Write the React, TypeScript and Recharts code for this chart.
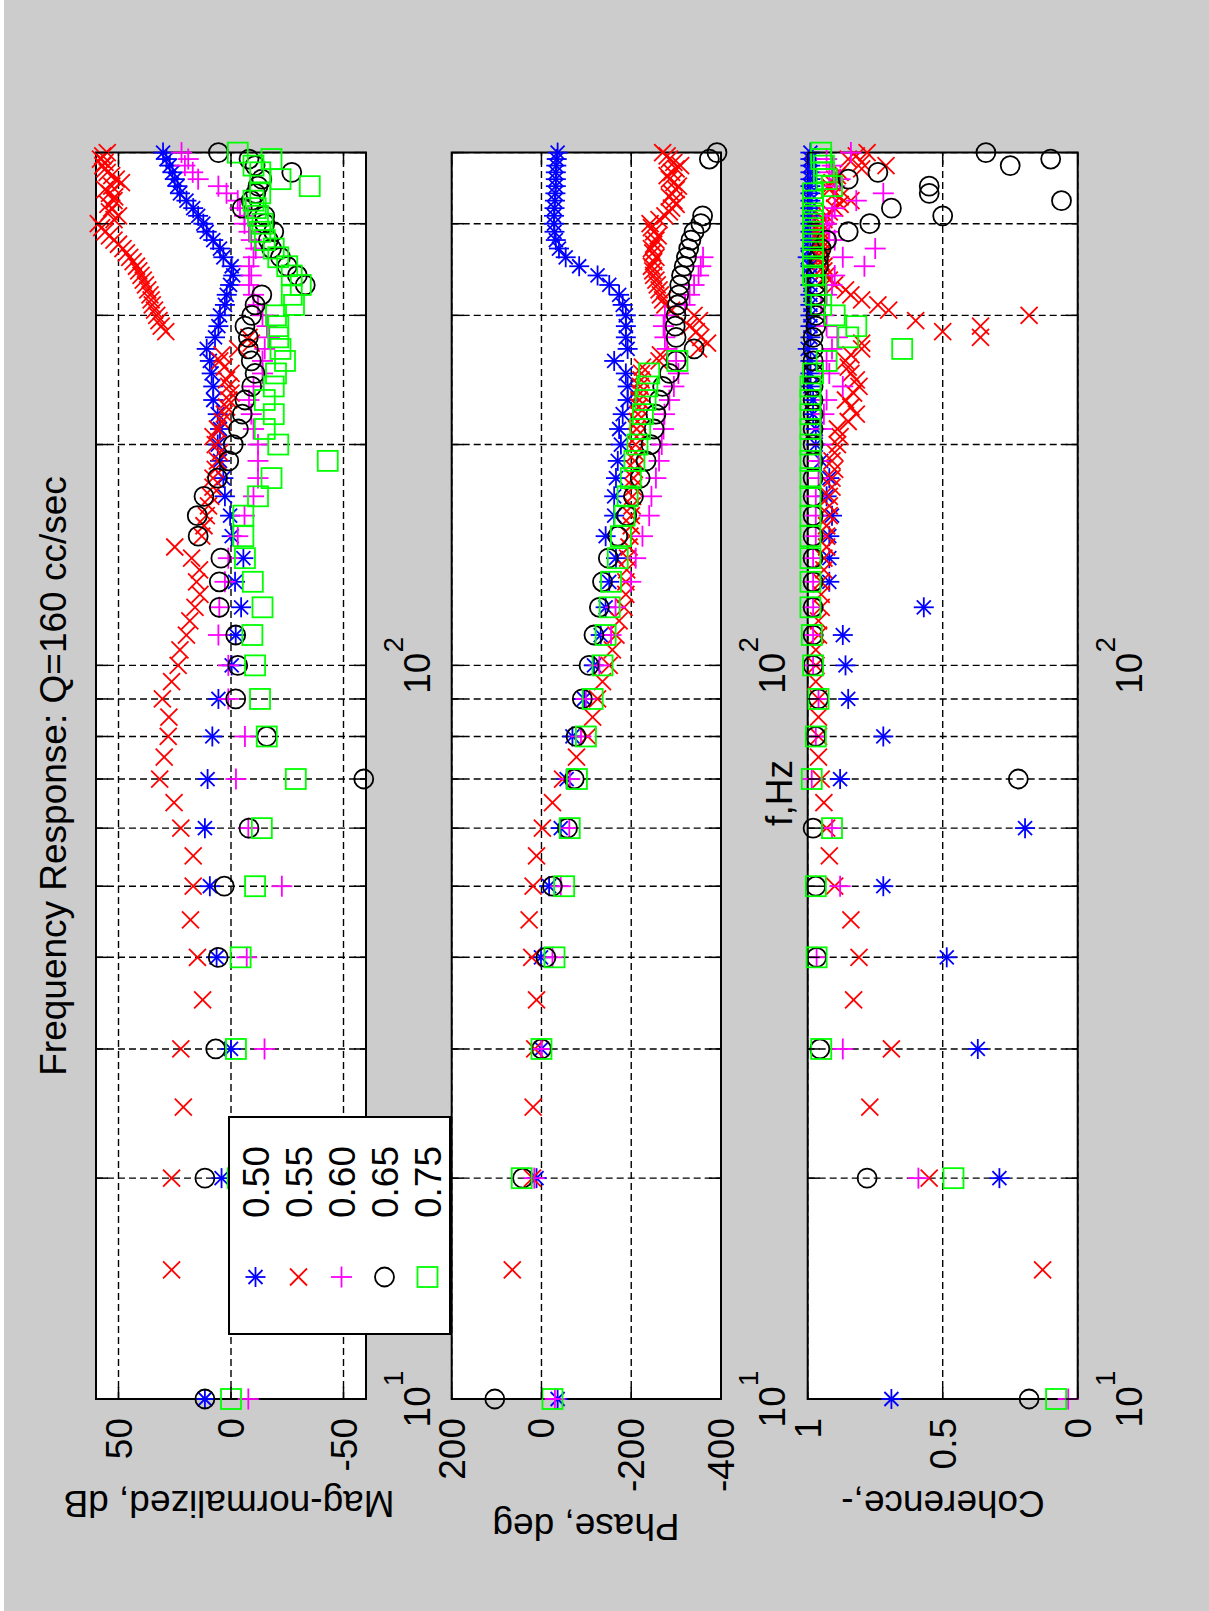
import React from 'react';
import { CartesianGrid, ReferenceArea, Scatter, ScatterChart, XAxis, YAxis } from 'recharts';

// frequencies, Hz (the 0.55 run was sampled every 5 Hz, the others every 10 Hz)
const F10 = [
  10, 20, 30, 40, 50, 60, 70, 80, 90, 100, 110, 120, 130, 140, 150, 160, 170, 180, 190, 200,
  210, 220, 230, 240, 250, 260, 270, 280, 290, 300, 310, 320, 330, 340, 350, 360, 370, 380, 390, 400,
  410, 420, 430, 440, 450, 460, 470, 480, 490, 500,
];
const F5 = [
  15, 20, 25, 30, 35, 40, 45, 50, 55, 60, 65, 70, 75, 80, 85, 90, 95, 100, 105, 110,
  115, 120, 125, 130, 135, 140, 145, 150, 155, 160, 165, 170, 175, 180, 185, 190, 195, 200, 205, 210,
  215, 220, 225, 230, 235, 240, 245, 250, 255, 260, 265, 270, 275, 280, 285, 290, 295, 300, 305, 310,
  315, 320, 325, 330, 335, 340, 345, 350, 355, 360, 365, 370, 375, 380, 385, 390, 395, 400, 405, 410,
  415, 420, 425, 430, 435, 440, 445, 450, 455, 460, 465, 470, 475, 480, 485, 490, 495, 500,
];

// magnitude, dB
const MAG_050 = [
  11.6, 4.2, 0, 6.4, 9.4, 11.6, 10.4, 8.3, 5.6, -0.3,
  -2.1, -4.5, -1.8, -5.5, -0.3, 0.4, 2.7, 3.4, 4.9, 5.9,
  4.9, 5.9, 7.9, 7.9, 8.6, 9.4, 10.8, 7.1, 5.6, 4.9,
  2.7, 1.9, 0.4, -1.0, -0.3, 3.4, 4.9, 7.9, 10.8, 12.3,
  14.6, 16.8, 19.8, 22.7, 23.8, 25, 26, 27.2, 28.7, 30.2,
];
const MAG_055 = [
  26.4, 26.4, 21.2, 22.3, 12.6, 14.9, 18, 16.8, 16.8, 22.3,
  25.3, 31.7, 29.7, 27.9, 27.6, 30.5, 26.4, 23.5, 22.7, 19.8,
  18.3, 16, 13.8, 15.3, 14, 17.5, 25, 13, 12, 11,
  10, 9, 8, 8, 7, 6, 5, 7, 8, 6,
  4, 3, 2, 1, 0, 1, 2, 0, 3, 5,
  4, -3, -9, -8, 29, 31, 32, 33, 34, 35,
  35.5, 36, 37, 38, 39, 40, 41, 42, 43.5, 45,
  46.5, 48, 50, 52, 54, 56, 57.5, 59, 52, 50,
  54, 53, 54.7, 52, 51.7, 54, 56, 53, 48.7, 51,
  53, 55, 56, 57, 56, 58, 57, 55,
];
const MAG_060 = [
  -7.7, -5, -14.9, -7, -22.6, -7.7, -2.2, -6.2, 1.2, 1.2,
  5.6, 5.2, 2.7, 1.2, -3, -6, -10, -12, -12, -12,
  -10, -9, -8, -10, -14, -14, -15, -17, -16, -14,
  -12, -10, -8, -9, -8, -10, -11, -9, -8, -6,
  -6, -4, -3, 2, 5.6, 14.6, 17, 20.5, 19, 22,
];
const MAG_065 = [
  11.6, 11.6, 6.8, 5.7, 3, -8, -59, -15.9, -2.1, -3,
  -2.1, 5.2, 5.2, 4.5, 14.6, 15, 12, 6, 1, -1,
  -3.3, -5, -6.2, -9.2, -10.7, -9, -7.7, -7.7, -6.2, -9.2,
  -10.7, -13.7, -33, -29.5, -25, -22, -18, -16.6, -19, -15,
  -15, -5, -9, -11, -12, -13.7, -27, -10.7, -8, 5.6,
];
const MAG_075 = [
  0, -3, -2.2, -4.3, -10.7, -13.7, -28.8, -15.9, -12.9, -10.7,
  -9.5, -14, -9.7, -6.2, -5.5, -5.5, -12, -18, -43, -21,
  -15, -19, -15, -19, -20, -24, -22, -21, -21, -20,
  -28, -27, -31, -27, -25, -21, -19, -15, -13, -14,
  -12, -11, -10, -13, -35, -22, -13, -10, -18, -3,
];

// phase, deg (null = off the plotted range)
const PHASE_050 = [
  -36, 11, 0, 1, -17, -43, -56, -69, -95, -117,
  -132, -143, -151, -166, -143, -162, -162, -166, -170, -177,
  -173, -181, -192, -192, -188, -162, -192, -188, -188, -188,
  -181, -173, -151, -125, -84, -54, -39, -32, -29, -28,
  -28, -29, -30, -31, -32, -32, -32, -33, -34, -36,
];
const PHASE_055 = [
  65, 20, 18.6, 15, 11, 21.6, 27.5, 18.6, 11, -2,
  -24.5, -47, -78, -103, -114, -125, -136, -151, -158, -166,
  -173, -184, -188, -188, -190, -192, -195, -197, -200, -200,
  -202, -203, -205, -205, -207, -208, -210, -210, -212, -212,
  -214, -215, -217, -218, -220, -220, -222, -223, -225, -262,
  -265, -350, -370, -355, -345, -330, -352, -340, -290, -275,
  -270, -265, -262, -258, -255, -250, -248, -245, -250, -255,
  -248, -245, -250, -255, -260, -250, -245, -242, -262, -275,
  -285, -290, -300, -295, -285, -290, -300, -305, -295, -285,
  -280, -290, -300, -310, -295, -285, -280, -270,
];
const PHASE_060 = [
  -30, 16, 0, -24.5, -43, -62, -63, -88, -99, -129,
  -155, -165, -199, -210, -225, -240, -245, -255, -262, -268,
  -272, -274, -285, -295, -305, -300, -280, -275, -272, -275,
  -320, -330, -340, -350, -355, -360, null, null, null, null,
  null, null, null, null, null, null, null, null, null, null,
];
const PHASE_065 = [
  104, 42, 0, -10, -24.5, -58, -73, -77, -91, -106,
  -117, -129, -136, -149, -170, -190, -205, -220, -233, -244,
  -251, -255, -262, -270, -285, -300, -340, -300, -298, -300,
  -303, -306, -308, -312, -318, -323, -328, -333, -340, -355,
  -359, null, null, null, null, null, null, null, -374, -391,
];
const PHASE_075 = [
  -24.5, 44, 0, -29, -50.5, -63, -79, -99, -114, -136,
  -143, -152, -155, -170, -177, -185, -192, -199, -207, -214,
  -220, -226, -232, -236, -240, -303, null, null, null, null,
  null, null, null, null, null, null, null, null, null, null,
  null, null, null, null, null, null, null, null, null, null,
];

// coherence
const COH_050 = [
  0.69, 0.29, 0.37, 0.485, 0.72, 0.195, 0.88, 0.72, 0.85, 0.86,
  0.87, 0.57, 0.92, 0.92, 0.92, 0.91, 0.93, 0.92, 0.95, 0.97,
  0.97, 0.98, 0.98, 0.99, 0.99, 0.99, 1.0, 0.99, 0.99, 0.99,
  0.99, 0.99, 0.99, 0.99, 0.99, 1.0, 0.99, 0.99, 0.99, 0.99,
  0.99, 0.99, 0.99, 0.99, 0.99, 0.99, 0.99, 0.99, 0.99, 0.99,
];
const COH_055 = [
  0.13, 0.55, 0.77, 0.69, 0.83, 0.81, 0.84, 0.9, 0.92, 0.93,
  0.94, 0.95, 0.96, 0.96, 0.96, 0.96, 0.97, 0.97, 0.97, 0.96,
  0.96, 0.95, 0.95, 0.95, 0.94, 0.94, 0.93, 0.93, 0.93, 0.92,
  0.92, 0.92, 0.91, 0.91, 0.9, 0.91, 0.9, 0.89, 0.88, 0.89,
  0.85, 0.82, 0.84, 0.86, 0.83, 0.81, 0.82, 0.84, 0.85, 0.86,
  0.84, 0.8, 0.8, 0.36, 0.5, 0.36, 0.6, 0.18, 0.7, 0.74,
  0.8, 0.84, 0.86, 0.9, 0.92, 0.93, 0.94, 0.94, 0.95, 0.95,
  0.95, 0.95, 0.95, 0.95, 0.95, 0.95, 0.95, 0.95, 0.94, 0.93,
  0.92, 0.9, 0.88, 0.84, 0.88, 0.9, 0.92, 0.92, 0.91, 0.9,
  0.89, 0.88, 0.8, 0.71, 0.8, 0.85, 0.82, 0.78,
];
const COH_060 = [
  0.035, 0.59, 0.87, 0.967, 0.88, 0.91, 0.985, 0.97, 0.96, 0.98,
  0.98, 0.98, 0.98, 0.98, 0.97, 0.97, 0.97, 0.96, 0.96, 0.95,
  0.95, 0.94, 0.93, 0.87, 0.92, 0.93, 0.91, 0.89, 0.93, 0.94,
  0.95, 0.93, 0.91, 0.9, 0.79, 0.87, 0.75, 0.9, 0.92, 0.93,
  0.91, 0.9, 0.82, 0.72, 0.9, 0.88, 0.92, 0.91, 0.93, 0.84,
];
const COH_065 = [
  0.18, 0.78, 0.955, 0.967, 0.97, 0.98, 0.22, 0.97, 0.96, 0.98,
  0.98, 0.98, 0.98, 0.98, 0.98, 0.98, 0.98, 0.98, 0.98, 0.98,
  0.98, 0.98, 0.98, 0.98, 0.98, 0.98, 0.98, 0.98, 0.97, 0.97,
  0.97, 0.97, 0.97, 0.97, 0.96, 0.96, 0.95, 0.93, 0.85, 0.77,
  0.5, 0.69, 0.06, 0.55, 0.55, 0.85, 0.74, 0.25, 0.1, 0.34,
];
const COH_075 = [
  0.08, 0.46, 0.95, 0.967, 0.97, 0.91, 0.985, 0.97, 0.96, 0.98,
  0.985, 0.99, 0.99, 0.99, 0.99, 0.99, 0.99, 0.99, 0.99, 0.99,
  0.99, 0.99, 0.99, 0.99, 0.98, 0.93, 0.65, 0.85, 0.82, 0.9,
  0.95, 0.97, 0.97, 0.98, 0.98, 0.98, 0.98, 0.98, 0.98, 0.98,
  0.98, 0.98, 0.98, 0.98, 0.91, 0.93, 0.94, 0.94, 0.95, 0.95,
];

const FREQ_TICKS = [10, 20, 30, 40, 50, 60, 70, 80, 90, 100, 200, 300, 400, 500];
const FREQ_EXP: Record<number, string> = { 10: '1', 100: '2' };
const MAG_TICKS = [-50, 0, 50];
const PHASE_TICKS = [-400, -200, 0, 200];
const COH_TICKS = [0, 0.5, 1];

type Kind = 'star' | 'x' | 'plus' | 'circle' | 'square';
type Field = 'mag' | 'phase' | 'coh';

const SERIES: {
  name: string;
  kind: Kind;
  color: string;
  f: number[];
  mag: (number | null)[];
  phase: (number | null)[];
  coh: (number | null)[];
}[] = [
  { name: '0.50', kind: 'star', color: '#0000ff', f: F10, mag: MAG_050, phase: PHASE_050, coh: COH_050 },
  { name: '0.55', kind: 'x', color: '#ff0000', f: F5, mag: MAG_055, phase: PHASE_055, coh: COH_055 },
  { name: '0.60', kind: 'plus', color: '#ff00ff', f: F10, mag: MAG_060, phase: PHASE_060, coh: COH_060 },
  { name: '0.65', kind: 'circle', color: '#000000', f: F10, mag: MAG_065, phase: PHASE_065, coh: COH_065 },
  { name: '0.75', kind: 'square', color: '#00ff00', f: F10, mag: MAG_075, phase: PHASE_075, coh: COH_075 },
];

// the figure is drawn landscape, then turned a quarter turn like the printout
const W = 1611;
const H = 1209;
const PLOT_L = 212;
const PLOT_R = 1458.4;
const YW = 100;
const XH = 80;
const FONT = '"Liberation Sans", Arial, Helvetica, sans-serif';

const PANELS: { field: Field; top: number; bottom: number; domain: [number, number]; ticks: number[] }[] = [
  { field: 'mag', top: 96, bottom: 366, domain: [-60, 60], ticks: MAG_TICKS },
  { field: 'phase', top: 451.7, bottom: 721, domain: [-400, 200], ticks: PHASE_TICKS },
  { field: 'coh', top: 807.7, bottom: 1077.7, domain: [0, 1], ticks: COH_TICKS },
];

function Marker({ kind, color, cx, cy }: { kind: Kind; color: string; cx: number; cy: number }) {
  const sw = 1.8;
  if (kind === 'circle') return <circle cx={cx} cy={cy} r={9.5} fill="none" stroke={color} strokeWidth={sw} />;
  if (kind === 'square')
    return <rect x={cx - 10} y={cy - 10} width={20} height={20} fill="none" stroke={color} strokeWidth={sw} />;
  if (kind === 'x') {
    const d = 8.5;
    return (
      <g stroke={color} strokeWidth={sw}>
        <line x1={cx - d} y1={cy - d} x2={cx + d} y2={cy + d} />
        <line x1={cx - d} y1={cy + d} x2={cx + d} y2={cy - d} />
      </g>
    );
  }
  const r = kind === 'plus' ? 10.5 : 10;
  return (
    <g stroke={color} strokeWidth={sw}>
      <line x1={cx - r} y1={cy} x2={cx + r} y2={cy} />
      <line x1={cx} y1={cy - r} x2={cx} y2={cy + r} />
      {kind === 'star' && <line x1={cx - 7} y1={cy - 7} x2={cx + 7} y2={cy + 7} />}
      {kind === 'star' && <line x1={cx - 7} y1={cy + 7} x2={cx + 7} y2={cy - 7} />}
    </g>
  );
}

function rows(f: number[], v: (number | null)[]) {
  return f.map((x, i) => ({ f: x, v: v[i] })).filter((d) => d.v !== null);
}

function Panel({ panel }: { panel: (typeof PANELS)[number] }) {
  const { top, bottom } = panel;
  const freqTick = (props: any) => {
    const x = props.x;
    const exp = FREQ_EXP[props.payload.value];
    return (
      <g>
        <line x1={x} x2={x} y1={bottom} y2={bottom - 12} stroke="#000" strokeWidth={1.5} />
        <line x1={x} x2={x} y1={top} y2={top + 12} stroke="#000" strokeWidth={1.5} />
        {exp && (
          <text x={x} y={bottom + 64} textAnchor="middle" fontSize={37} fontFamily={FONT} fill="#000">
            10
            <tspan fontSize={28} dy={-27}>
              {exp}
            </tspan>
          </text>
        )}
      </g>
    );
  };
  const valueTick = (props: any) => {
    const y = props.y;
    return (
      <g>
        <line x1={PLOT_L} x2={PLOT_L + 12} y1={y} y2={y} stroke="#000" strokeWidth={1.5} />
        <line x1={PLOT_R - 12} x2={PLOT_R} y1={y} y2={y} stroke="#000" strokeWidth={1.5} />
        <text x={PLOT_L - 19} y={y + 13} textAnchor="end" fontSize={37} fontFamily={FONT} fill="#000">
          {String(props.payload.value)}
        </text>
      </g>
    );
  };

  return (
    <div style={{ position: 'absolute', left: 0, top: 0 }}>
      <ScatterChart
        width={W}
        height={H}
        margin={{ top, bottom: H - bottom - XH, left: PLOT_L - YW, right: W - PLOT_R }}
      >
        <CartesianGrid stroke="#000" strokeWidth={1.4} strokeDasharray="7 4" fill="#ffffff" />
        <XAxis
          type="number"
          dataKey="f"
          scale="log"
          domain={[10, 500]}
          ticks={FREQ_TICKS}
          interval={0}
          height={XH}
          tickSize={0}
          tickMargin={0}
          axisLine={false}
          tickLine={false}
          tick={freqTick}
        />
        <YAxis
          type="number"
          dataKey="v"
          domain={panel.domain}
          ticks={panel.ticks}
          interval={0}
          width={YW}
          tickSize={0}
          tickMargin={0}
          axisLine={false}
          tickLine={false}
          tick={valueTick}
        />
        <ReferenceArea
          x1={10}
          x2={500}
          y1={panel.domain[0]}
          y2={panel.domain[1]}
          fill="none"
          fillOpacity={0}
          stroke="#000"
          strokeWidth={2}
        />
        {SERIES.map((s) => (
          <Scatter
            key={s.name}
            name={s.name}
            data={rows(s.f, s[panel.field])}
            isAnimationActive={false}
            shape={(p: any) => <Marker kind={s.kind} color={s.color} cx={p.cx} cy={p.cy} />}
          />
        ))}
      </ScatterChart>
    </div>
  );
}

function Overlay() {
  const text = { fontSize: 37, fontFamily: FONT, fill: '#000' };
  const yTitles = [
    { label: 'Mag-normalized, dB', x: 120, y: 229 },
    { label: 'Phase, deg', x: 97, y: 586 },
    { label: 'Coherence,-', x: 120, y: 943 },
  ];
  return (
    <svg width={W} height={H} style={{ position: 'absolute', left: 0, top: 0, overflow: 'visible' }}>
      <text x={835} y={66} textAnchor="middle" {...text}>
        Frequency Response: Q=160 cc/sec
      </text>
      {yTitles.map((t) => (
        <text key={t.label} x={t.x} y={t.y} textAnchor="middle" transform={`rotate(-90 ${t.x} ${t.y})`} {...text}>
          {t.label}
        </text>
      ))}
      <text x={818} y={792} textAnchor="middle" {...text}>
        f,Hz
      </text>
      <rect x={277} y={229} width={217} height={221} fill="#ffffff" stroke="#000" strokeWidth={2} />
      {SERIES.map((s, i) => {
        const cy = 255.5 + i * 43;
        return (
          <g key={s.name}>
            <Marker kind={s.kind} color={s.color} cx={334} cy={cy} />
            <text x={393} y={cy + 13} {...text}>
              {s.name}
            </text>
          </g>
        );
      })}
    </svg>
  );
}

export default function App() {
  return (
    <div style={{ position: 'fixed', left: 0, top: 0, width: 1209, height: 1611, background: '#ffffff', overflow: 'hidden' }}>
      <div style={{ position: 'absolute', left: 4, top: 0, right: 0, bottom: 0, background: '#cccccc' }} />
      <div
        style={{
          position: 'absolute',
          left: 0,
          top: 1611,
          width: W,
          height: H,
          transform: 'rotate(-90deg)',
          transformOrigin: '0 0',
        }}
      >
        {PANELS.map((p) => (
          <Panel key={p.field} panel={p} />
        ))}
        <Overlay />
      </div>
    </div>
  );
}
